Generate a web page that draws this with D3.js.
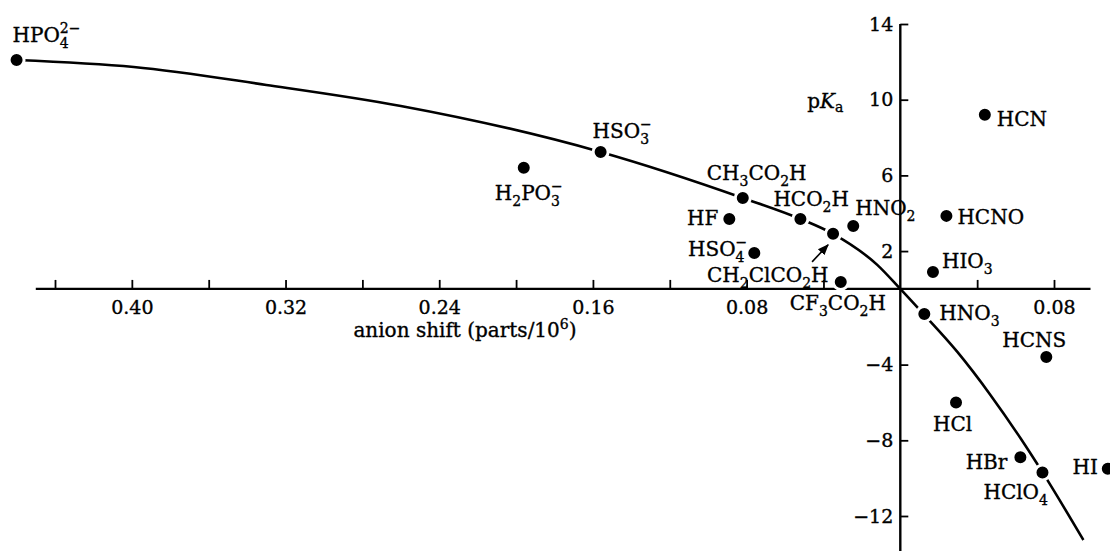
<!DOCTYPE html>
<html>
<head>
<meta charset="utf-8">
<script src="https://cdn.jsdelivr.net/npm/d3@7"></script>
<style>
  body { margin: 0; background: #fff; }
  svg { display: block; font-family: 'DejaVu Serif', serif; }
  svg text { fill: #000; stroke: #000; stroke-width: 0.35; }
</style>
</head>
<body>
<svg></svg>
<script>
const w = 1110
const h = 551

// acids: label markup uses _{} for subscript and ^{} for superscript
const acids = [
  'HPO_{4}^{2−}', 'HSO_{3}^{−}', 'H_{2}PO_{3}^{−}', 'CH_{3}CO_{2}H', 'HF',
  'HCO_{2}H', 'CH_{2}ClCO_{2}H', 'HNO_{2}', 'HSO_{4}^{−}', 'CF_{3}CO_{2}H',
  'HCN', 'HCNO', 'HIO_{3}', 'HNO_{3}', 'HCNS', 'HCl', 'HBr', 'HClO_{4}', 'HI'
]
// anion shift (parts/10^6), positive to the left
const shift = [
  0.460, 0.156, 0.196, 0.082, 0.089,
  0.052, 0.035, 0.0245, 0.076, 0.031,
  -0.044, -0.024, -0.017, -0.0125, -0.076, -0.029, -0.0625, -0.074, -0.108
]
const pKa = [
  12.1, 7.24, 6.4, 4.81, 3.7,
  3.7, 2.91, 3.33, 1.9, 0.37,
  9.2, 3.86, 0.9, -1.32, -3.6, -6.0, -8.9, -9.7, -9.5
]

// fitted curve
const curveShift = [0.460, 0.399, 0.330, 0.260, 0.156, 0.082, 0.052, 0.035, 0.012, 0, -0.012, -0.0297, -0.0469, -0.0625, -0.0739, -0.0953]
const curvePKa = [12.1, 11.73, 10.78, 9.67, 7.24, 4.81, 3.7, 2.91, 1.27, 0, -1.32, -3.33, -5.6, -7.88, -9.67, -13.27]

const xTicks = [0.44, 0.40, 0.36, 0.32, 0.28, 0.24, 0.20, 0.16, 0.12, 0.08, 0.04, -0.04, -0.08]
const xTickLabels = [0.40, 0.32, 0.24, 0.16, 0.08, -0.08]
const yTicks = [14, 10, 6, 2, -4, -8, -12]
const xExtent = [0.45, -0.099]
const yExtent = [14, -14.2]

// label placement: [dx, dy, anchor] from the dot
const labelPos = [
  [-4, -18, 'start'], [-8, -14, 'start'], [-29, 32, 'start'], [-36, -18, 'start'], [-11, 6, 'end'],
  [-27, -13, 'start'], [-126, 48, 'start'], [2, -11, 'start'], [-7, 3, 'end'], [-51, 28, 'start'],
  [12, 11, 'start'], [11, 8, 'start'], [9, -4, 'start'], [15, 6, 'start'], [-44, -10, 'start'],
  [-23, 29, 'start'], [-13, 12, 'end'], [-59, 27, 'start'], [-10, 5, 'end']
]

const svg = d3.select('svg').attr('width', w).attr('height', h)

const x = d3.scaleLinear().domain([0.44, -0.08]).range([55, 1054])
const y = d3.scaleLinear().domain([14, -12]).range([24, 516])

const fs = 20
const subFs = 14

// x axis
const xAxis = d3.axisBottom(x)
  .tickValues(xTicks)
  .tickSizeInner(-9)
  .tickSizeOuter(0)
  .tickPadding(12)
  .tickFormat(d => xTickLabels.includes(d) ? Math.abs(d).toFixed(2) : '')

const gx = svg.append('g')
  .attr('transform', `translate(0, ${y(0)})`)
  .call(xAxis)
gx.select('.domain').remove()
gx.selectAll('line').attr('stroke', '#000').attr('stroke-width', 1.8)
gx.selectAll('text').attr('font-size', 19).attr('font-family', 'DejaVu Serif')
gx.append('line')
  .attr('x1', x(xExtent[0])).attr('x2', x(xExtent[1]))
  .attr('stroke', '#000').attr('stroke-width', 2.4)

// y axis
const yAxis = d3.axisLeft(y)
  .tickValues(yTicks)
  .tickSizeInner(-8)
  .tickSizeOuter(0)
  .tickPadding(7)

const gy = svg.append('g')
  .attr('transform', `translate(${x(0)}, 0)`)
  .call(yAxis)
gy.select('.domain').remove()
gy.selectAll('line').attr('stroke', '#000').attr('stroke-width', 1.8)
gy.selectAll('text').attr('font-size', 19).attr('font-family', 'DejaVu Serif')
gy.append('line')
  .attr('y1', y(yExtent[0])).attr('y2', y(yExtent[1]))
  .attr('stroke', '#000').attr('stroke-width', 2.4)

// axis titles
const xt = svg.append('text')
  .attr('x', 465).attr('y', 337)
  .attr('text-anchor', 'middle')
  .attr('font-size', fs)
xt.append('tspan').text('anion shift (parts/10')
xt.append('tspan').attr('font-size', subFs).attr('dy', -8).text('6')
xt.append('tspan').attr('dy', 8).text(')')

const yt = svg.append('text')
  .attr('x', x(0) - 93).attr('y', y(10) + 8)
  .attr('font-size', fs)
yt.append('tspan').text('p')
yt.append('tspan').attr('font-style', 'italic').text('K')
yt.append('tspan').attr('font-size', subFs).attr('dy', 4).text('a')

// curve
const curvePts = curveShift.map((s, i) => [s, curvePKa[i]])
svg.append('path')
  .attr('d', d3.line().x(d => x(d[0])).y(d => y(d[1])).curve(d3.curveMonotoneX)(curvePts))
  .attr('fill', 'none')
  .attr('stroke', '#000')
  .attr('stroke-width', 2.6)

// dots
const pts = acids.map((a, i) => ({ name: a, s: shift[i], p: pKa[i], pos: labelPos[i] }))

svg.selectAll('circle.dot')
  .data(pts)
  .enter()
  .append('circle')
  .attr('class', 'dot')
  .attr('cx', d => x(d.s))
  .attr('cy', d => y(d.p))
  .attr('r', 7.5)
  .attr('fill', '#000')
  .attr('stroke', '#fff')
  .attr('stroke-width', 3)

// labels with sub/superscripts
function parse (str) {
  const parts = []
  const re = /(_\{([^}]*)\})|(\^\{([^}]*)\})|([^_^]+)/g
  let m
  while ((m = re.exec(str))) {
    if (m[2] !== undefined) parts.push({ t: m[2], k: 'sub' })
    else if (m[4] !== undefined) parts.push({ t: m[4], k: 'sup' })
    else parts.push({ t: m[5], k: 'n' })
  }
  return parts
}

pts.forEach(d => {
  const t = svg.append('text')
    .attr('x', x(d.s) + d.pos[0])
    .attr('y', y(d.p) + d.pos[1])
    .attr('text-anchor', d.pos[2])
    .attr('font-size', fs)
  let shiftY = 0
  let prevSub = null
  parse(d.name).forEach(p => {
    const ts = t.append('tspan').text(p.t)
    if (p.k === 'sub') {
      ts.attr('font-size', subFs).attr('dy', 6 - shiftY)
      shiftY = 6
      prevSub = p.t
    } else if (p.k === 'sup') {
      ts.attr('font-size', subFs).attr('dy', -9 - shiftY)
      if (prevSub) ts.attr('dx', -prevSub.length * subFs * 0.64)
      shiftY = -9
      prevSub = null
    } else {
      ts.attr('dy', -shiftY)
      shiftY = 0
      prevSub = null
    }
  })
})

// arrow to CH2ClCO2H
const target = pts[6]
svg.append('defs').append('marker')
  .attr('id', 'ah')
  .attr('viewBox', '0 0 10 10')
  .attr('refX', 9).attr('refY', 5)
  .attr('markerWidth', 7).attr('markerHeight', 7)
  .attr('orient', 'auto')
  .append('path').attr('d', 'M0,1 L10,5 L0,9 Z').attr('fill', '#000')

svg.append('line')
  .attr('x1', x(target.s) - 21).attr('y1', y(target.p) + 28)
  .attr('x2', x(target.s) - 5).attr('y2', y(target.p) + 11)
  .attr('stroke', '#000').attr('stroke-width', 1.6)
  .attr('marker-end', 'url(#ah)')
</script>
</body>
</html>
